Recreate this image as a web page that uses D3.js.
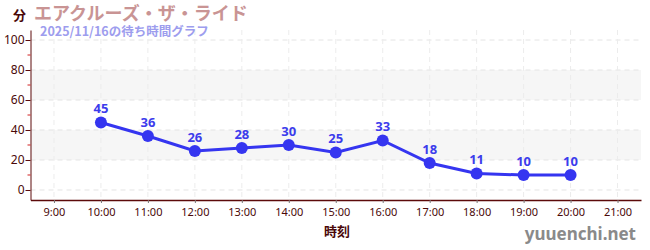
<!DOCTYPE html>
<html><head><meta charset="utf-8">
<script src="https://cdn.jsdelivr.net/npm/d3@7"></script>
<style>body{margin:0;background:#fff;}svg{display:block;font-family:"Noto Sans CJK JP","Noto Sans",sans-serif;}</style>
</head><body>
<script>
const times = [10,11,12,13,14,15,16,17,18,19,20];
const waits = [45,36,26,28,30,25,33,18,11,10,10];
const xTickHours = [9,10,11,12,13,14,15,16,17,18,19,20,21];
const yTicks = [0,20,40,60,80,100];
const yMinor = [10,30,50,70,90];
const bands = [[20,40],[60,80]];
const title = "エアクルーズ・ザ・ライド";
const subtitle = "2025/11/16の待ち時間グラフ";

const W=650,H=250;
const svg=d3.select("body").append("svg").attr("width",W).attr("height",H);
const x=d3.scaleLinear().domain([8.5,21.5]).range([30.5,641]);
const y=d3.scaleLinear().domain([-6.67,106.67]).range([200,30]);
const axisColor="#5c0a0a";

// bands
svg.selectAll("rect.band").data(bands).enter().append("rect")
 .attr("x",x(8.5)).attr("width",x(21.5)-x(8.5))
 .attr("y",d=>y(d[1])).attr("height",d=>y(d[0])-y(d[1]))
 .attr("fill","#f6f6f6");
// grids
svg.selectAll("line.hg").data(yTicks).enter().append("line")
 .attr("x1",x(8.5)).attr("x2",x(21.5)).attr("y1",d=>y(d)).attr("y2",d=>y(d))
 .attr("stroke","#e4e4e4").attr("stroke-dasharray","5,4");
svg.selectAll("line.vg").data(xTickHours).enter().append("line")
 .attr("x1",d=>x(d)).attr("x2",d=>x(d)).attr("y1",y(106.67)).attr("y2",y(-6.67))
 .attr("stroke","#ececec").attr("stroke-dasharray","5,4");

// y axis
const ya=svg.append("g").attr("transform",`translate(${x(8.5)},0)`)
 .call(d3.axisLeft(y).tickValues(yTicks).tickSize(5).tickSizeOuter(0));
ya.select(".domain").attr("stroke",axisColor);
ya.selectAll(".tick line").attr("stroke",axisColor);
ya.selectAll(".tick text").attr("fill","#4a0808").attr("font-size","12px").attr("font-family","'Noto Sans',sans-serif").attr("x",-6);
ya.append("g").selectAll("line").data(yMinor).enter().append("line")
 .attr("x1",-3).attr("x2",0).attr("y1",d=>y(d)).attr("y2",d=>y(d)).attr("stroke","#d02020");

// x axis
const xa=svg.append("g").attr("transform",`translate(0,${y(-6.67)})`)
 .call(d3.axisBottom(x).tickValues(xTickHours).tickFormat(d=>d+":00").tickSize(3).tickSizeOuter(0));
xa.select(".domain").attr("stroke",axisColor).attr("stroke-width",1.3);
xa.selectAll(".tick line").attr("stroke","#777");
xa.selectAll(".tick text").attr("fill","#4a0808").attr("font-size","11px").attr("font-family","'Noto Sans',sans-serif").attr("dy","0.9em");

// line
const line=d3.line().x((d,i)=>x(times[i])).y(d=>y(d));
svg.append("path").datum(waits).attr("d",line).attr("fill","none").attr("stroke","#3535f0").attr("stroke-width",3);
svg.selectAll("circle.pt").data(waits).enter().append("circle")
 .attr("cx",(d,i)=>x(times[i])).attr("cy",d=>y(d)).attr("r",6).attr("fill","#3535f0");
svg.selectAll("text.lbl").data(waits).enter().append("text")
 .attr("x",(d,i)=>x(times[i])).attr("y",d=>y(d)-9).attr("text-anchor","middle")
 .attr("font-size","13px").attr("font-weight","bold").attr("fill","#3c3cec").attr("font-family","'Noto Sans',sans-serif").text(d=>d);

// titles
svg.append("text").attr("x",13).attr("y",20).attr("font-size","13px").attr("font-weight","bold").attr("fill","#4a0808").text("分");
svg.append("text").attr("x",34).attr("y",20).attr("font-size","18px").attr("font-weight","bold").attr("fill","#c99494").text(title);
svg.append("text").attr("x",40).attr("y",36).attr("font-size","12.5px").attr("font-weight","bold").attr("fill","#9d9dee").text(subtitle);
svg.append("text").attr("x",337).attr("y",236).attr("text-anchor","middle").attr("font-size","13px").attr("font-weight","bold").attr("fill","#4a0808").text("時刻");
svg.append("text").attr("x",636).attr("y",240).attr("text-anchor","end").attr("font-size","17px").attr("font-weight","bold").attr("fill","#8a8a8a").attr("font-family","'Noto Sans',sans-serif").text("yuuenchi.net");
</script>
</body></html>
